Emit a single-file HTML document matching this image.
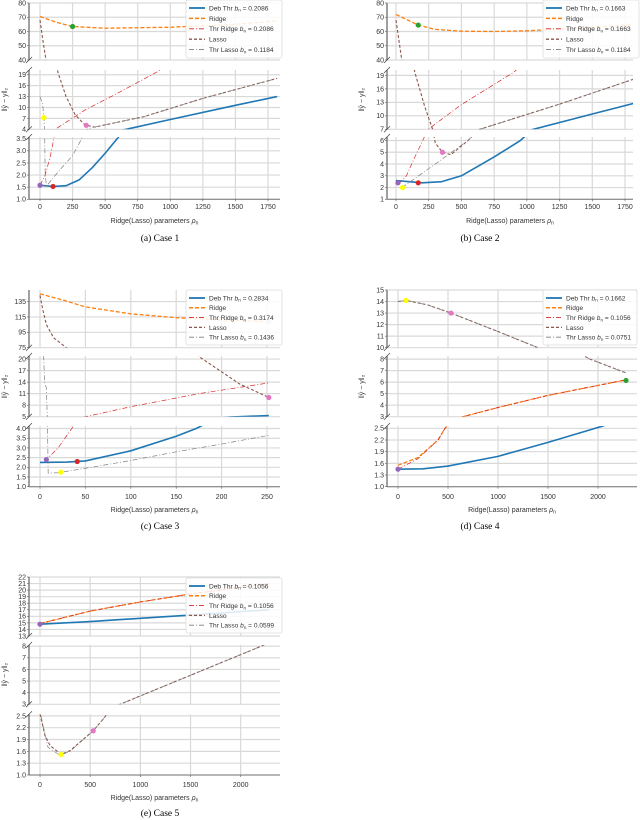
<!DOCTYPE html>
<html><head><meta charset="utf-8"><style>
html,body{margin:0;padding:0;background:#fff;}
svg{display:block;font-family:"Liberation Sans","DejaVu Sans",sans-serif;}
</style></head><body>
<svg id="fig" width="640" height="820" viewBox="0 0 640 820" xmlns="http://www.w3.org/2000/svg"></svg>
<script>
// ---- data (x = parameter rho_n, y = ||yhat - y||_2) ----
const c1_deb=[[0,1.58],[100,1.53],[200,1.56],[300,1.8],[400,2.3],[500,2.9],[600,3.55],[700,4.3],[1000,6.7],[1500,10.6],[1820,13]];
const c1_ridge=[[0,70.5],[125,66.5],[250,63.5],[500,62.3],[1000,63],[1500,65],[1820,67.5]];
const c1_thrridge=[[0,1.58],[40,2.0],[80,2.8],[110,3.6],[130,4.3],[345,9.3],[600,14],[900,19.8],[950,21]];
const c1_lasso=[[0,68],[20,55],[46,40],[90,28],[138,19.6],[200,13],[270,8],[345,5.2],[420,4.6],[800,7.5],[1250,12.5],[1820,18]];
const c1_thrlasso=[[0,13],[20,11],[30,7.2],[35,4],[40,2],[50,1.55],[150,2.2],[250,2.8],[320,3.5],[400,4.5],[800,7.5],[1250,12.5],[1820,18]];
const c1_marks=[[0,1.58,'#9467bd'],[100,1.53,'#d62728'],[250,63.5,'#2ca02c'],[355,5.1,'#e377c2'],[30,7.2,'#ffff00']];

const c2_deb=[[0,2.6],[100,2.5],[200,2.4],[350,2.5],[500,3.0],[750,4.6],[950,6.0],[1050,7],[1500,10.4],[1820,12.8]];
const c2_ridge=[[0,72],[170,64.5],[300,61.5],[500,60.2],[750,60],[1000,60.5],[1500,63],[1820,65]];
const c2_thrridge=[[20,2.3],[80,3],[140,4.5],[204,6],[260,7.3],[500,12.5],[900,19.7],[950,21]];
const c2_lasso=[[0,68],[44,40],[100,25],[145,19.6],[220,12],[280,7],[300,5.8],[355,5],[420,4.8],[550,6],[640,7],[1250,12.6],[1820,18.2]];
const c2_thrlasso=[[45,2],[300,4],[550,6],[640,7],[1250,12.6],[1820,18.2]];
const c2_marks=[[15,2.4,'#9467bd'],[50,2.0,'#ffff00'],[170,2.4,'#d62728'],[170,64.5,'#2ca02c'],[355,5,'#e377c2']];

const c3_deb=[[0,2.25],[30,2.27],[50,2.33],[100,2.85],[150,3.6],[172,4.0],[210,4.9],[252,5.3]];
const c3_ridge=[[0,145],[25,137],[50,128],[100,119],[150,114],[200,111],[252,109]];
const c3_thrridge=[[5,2.3],[20,3.0],[35,4.0],[50,5.0],[100,7.6],[175,11],[252,13.8]];
const c3_lasso=[[0,143],[3,125],[7,105],[15,88],[29,75],[100,40],[176,20.5],[220,13.5],[252,10]];
const c3_thrlasso=[[4,21],[5,14],[7,12.5],[8,5],[9,1.7],[20,1.72],[50,1.95],[100,2.35],[150,2.8],[200,3.2],[252,3.65]];
const c3_marks=[[7,2.4,'#9467bd'],[23,1.75,'#ffff00'],[41,2.3,'#d62728'],[252,10,'#e377c2'],[252,109,'#c7c7c7']];

const c4_deb=[[0,1.45],[250,1.46],[500,1.53],[1000,1.78],[1500,2.14],[1970,2.5],[2100,2.6]];
const c4_ridge=[[0,1.55],[200,1.75],[400,2.2],[470,2.5],[650,3],[1000,3.8],[1500,4.85],[2280,6.2]];
const c4_thrridge=[[0,1.45],[200,1.72],[400,2.2],[470,2.5],[650,3],[1000,3.8],[1500,4.85],[2280,6.2]];
const c4_lasso=[[0,14],[80,14.1],[300,13.7],[530,13],[1000,11.4],[1400,10],[1700,9],[1920,8],[2280,6.8]];
const c4_thrlasso=[[0,14],[80,14.1],[300,13.7],[530,13],[1000,11.4],[1400,10],[1700,9],[1920,8],[2280,6.8]];
const c4_marks=[[80,14.1,'#ffff00'],[530,13,'#e377c2'],[2280,6.15,'#2ca02c'],[0,1.45,'#9467bd']];

const c5_deb=[[0,14.8],[500,15.2],[1000,15.7],[1500,16.2],[2280,17]];
const c5_ridge=[[0,14.9],[500,16.8],[1000,18.2],[1500,19.4],[2280,21]];
const c5_thrridge=[[0,14.9],[500,16.8],[1000,18.2],[1500,19.4],[2280,21]];
const c5_lasso=[[0,2.55],[50,2.0],[100,1.75],[210,1.52],[300,1.62],[530,2.12],[640,2.45],[797,3],[2205,8],[2280,8.3]];
const c5_thrlasso=[[10,2.5],[80,1.7],[200,1.5],[300,1.6],[530,2.12],[640,2.45],[797,3],[2205,8],[2280,8.3]];
const c5_marks=[[0,14.8,'#9467bd'],[210,1.52,'#ffff00'],[530,2.12,'#e377c2']];

const c1_legend=['Deb Thr b_n = 0.2086','Ridge','Thr Ridge b_n = 0.2086','Lasso','Thr Lasso b_n = 0.1184'];
const c2_legend=['Deb Thr b_n = 0.1663','Ridge','Thr Ridge b_n = 0.1663','Lasso','Thr Lasso b_n = 0.1184'];
const c3_legend=['Deb Thr b_n = 0.2834','Ridge','Thr Ridge b_n = 0.3174','Lasso','Thr Lasso b_n = 0.1436'];
const c4_legend=['Deb Thr b_n = 0.1662','Ridge','Thr Ridge b_n = 0.1056','Lasso','Thr Lasso b_n = 0.0751'];
const c5_legend=['Deb Thr b_n = 0.1056','Ridge','Thr Ridge b_n = 0.1056','Lasso','Thr Lasso b_n = 0.0599'];

const xt12=['0','250','500','750','1000','1250','1500','1750'];
const xt3=['0','50','100','150','200','250'];
const xt45=['0','500','1000','1500','2000'];

// ---- layout ----
const styles=[
 {c:'#1f77b4',w:1.6,d:''},
 {c:'#ff7f0e',w:1.3,d:'4,2'},
 {c:'#d62728',w:0.7,d:'5,2,1,2'},
 {c:'#8c564b',w:1.1,d:'3,2'},
 {c:'#7f7f7f',w:0.7,d:'5,2,1,2'}
];
const panels=[
 {id:'case-1',cap:'(a) Case 1',L:29,R:280,x0:40,x1:268,v1:1750,xt:xt12,tickY:203,xlY:221,capY:241,capX:160,ylX:5,
  series:[c1_deb,c1_ridge,c1_thrridge,c1_lasso,c1_thrlasso],marks:c1_marks,leg:c1_legend,lg:[186,0,96,58],
  bands:[{t:3,b:60,lo:40,hi:80,ticks:['40','50','60','70','80']},{t:70,b:129.3,lo:4,hi:20.3,ticks:['4','7','10','13','16','19']},{t:137,b:199.3,lo:1,hi:3.57,ticks:['1.0','1.5','2.0','2.5','3.0','3.5']}]},
 {id:'case-2',cap:'(b) Case 2',L:387,R:633,x0:396,x1:625,v1:1750,xt:xt12,tickY:203,xlY:221,capY:241,capX:480,ylX:362,
  series:[c2_deb,c2_ridge,c2_thrridge,c2_lasso,c2_thrlasso],marks:c2_marks,leg:c2_legend,lg:[543,0,96,58],
  bands:[{t:3,b:60,lo:40,hi:80,ticks:['40','50','60','70','80']},{t:70,b:129.3,lo:7,hi:20.2,ticks:['7','10','13','16','19']},{t:137,b:199.3,lo:1,hi:6.3,ticks:['1','2','3','4','5','6']}]},
 {id:'case-3',cap:'(c) Case 3',L:29,R:280,x0:40,x1:267,v1:250,xt:xt3,tickY:493,xlY:510,capY:529,capX:160,ylX:5,
  series:[c3_deb,c3_ridge,c3_thrridge,c3_lasso,c3_thrlasso],marks:c3_marks,leg:c3_legend,lg:[186,290,96,55],
  bands:[{t:290,b:347.7,lo:75,hi:150,ticks:['75','95','115','135']},{t:356,b:416.7,lo:5,hi:20.8,ticks:['5','8','11','14','17','20']},{t:426,b:486.7,lo:1,hi:4.13,ticks:['1.0','1.5','2.0','2.5','3.0','3.5','4.0']}]},
 {id:'case-4',cap:'(d) Case 4',L:387,R:637,x0:398,x1:598,v1:2000,xt:xt45,tickY:493,xlY:510,capY:529,capX:480,ylX:362,
  series:[c4_deb,c4_ridge,c4_thrridge,c4_lasso,c4_thrlasso],marks:c4_marks,leg:c4_legend,lg:[543,290,94,55],
  bands:[{t:290,b:347.7,lo:10,hi:15,ticks:['10','11','12','13','14','15']},{t:356,b:416.7,lo:3,hi:8.27,ticks:['3','4','5','6','7','8']},{t:426,b:486.7,lo:1,hi:2.56,ticks:['1.0','1.3','1.6','1.9','2.2','2.5']}]},
 {id:'case-5',cap:'(e) Case 5',L:29,R:280,x0:40,x1:240.7,v1:2000,xt:xt45,tickY:781,xlY:798,capY:816,capX:160,ylX:5,
  series:[c5_deb,c5_ridge,c5_thrridge,c5_lasso,c5_thrlasso],marks:c5_marks,leg:c5_legend,lg:[186,578,96,55],
  bands:[{t:577,b:636,lo:13,hi:22,ticks:['13','14','15','16','17','18','19','20','21','22']},{t:645,b:704.3,lo:3,hi:8.1,ticks:['3','4','5','6','7','8']},{t:714.3,b:775,lo:1,hi:2.54,ticks:['1.0','1.3','1.6','1.9','2.2','2.5']}]}
];

const NS='http://www.w3.org/2000/svg';
const svg=document.getElementById('fig');
function mk(tag,attrs,parent){const e=document.createElementNS(NS,tag);for(const k in attrs)e.setAttribute(k,attrs[k]);(parent||svg).appendChild(e);return e;}
let clipN=0;

panels.forEach(p=>{
  const g=mk('g',{});
  
  
  const xs=v=>p.x0+(v/p.v1)*(p.x1-p.x0);
  // x ticks values parsed from labels
  p.bands.forEach((bd,bi)=>{
    const ys=v=>bd.b-(v-bd.lo)/(bd.hi-bd.lo)*(bd.b-bd.t);
    const bg=mk('g',{},g);
    
    
    // grid
    p.xt.forEach(t=>{const x=xs(parseFloat(t));mk('line',{x1:x,x2:x,y1:bd.t,y2:bd.b,stroke:'#d9d9d9','stroke-width':1.2},bg);});
    bd.ticks.forEach(t=>{const y=ys(parseFloat(t));
      mk('line',{x1:p.L,x2:p.R,y1:y,y2:y,stroke:'#d9d9d9','stroke-width':1.2},bg);
      mk('line',{x1:p.L-2,x2:p.L,y1:y,y2:y,stroke:'#555','stroke-width':0.6},bg);
      const tx=mk('text',{x:p.L-3,y:y+2.4,'font-size':7,'text-anchor':'end',fill:'#333'},bg);tx.textContent=t;
      
      
    });
    // clip
    const id='cl'+(clipN++);
    const cp=mk('clipPath',{id:id},bg);mk('rect',{x:p.L,y:bd.t,width:p.R-p.L,height:bd.b-bd.t},cp);
    const sg=mk('g',{'clip-path':'url(#'+id+')'},bg);
    p.series.forEach((s,si)=>{
      const st=styles[si];
      const d=s.map((pt,i)=>(i?'L':'M')+xs(pt[0]).toFixed(2)+','+ys(pt[1]).toFixed(2)).join(' ');
      const path=mk('path',{d:d,fill:'none',stroke:st.c,'stroke-width':st.w,'stroke-dasharray':st.d,'stroke-linejoin':'round'},sg);
      
      
    });
    p.marks.forEach(m=>{
      const c=mk('circle',{cx:xs(m[0]),cy:ys(m[1]),r:2.6,fill:m[2]},sg);
      
      
    });
    // left spine
    mk('line',{x1:p.L,x2:p.L,y1:bd.t,y2:bd.b,stroke:'#777','stroke-width':1.4},bg);
    // break marks
    if(bi>0) mk('line',{x1:p.L-3,y1:bd.t+3,x2:p.L+3,y2:bd.t-3,stroke:'#444','stroke-width':0.7},bg);
    if(bi<2) mk('line',{x1:p.L-3,y1:bd.b+3,x2:p.L+3,y2:bd.b-3,stroke:'#444','stroke-width':0.7},bg);
    if(bi===2){
      mk('line',{x1:p.L,x2:p.R,y1:bd.b,y2:bd.b,stroke:'#777','stroke-width':1},bg);
      p.xt.forEach(t=>{const x=xs(parseFloat(t));
        mk('line',{x1:x,x2:x,y1:bd.b,y2:bd.b+2,stroke:'#555','stroke-width':0.6},bg);
        const tx=mk('text',{x:x,y:p.tickY+6,'font-size':7,'text-anchor':'middle',fill:'#333'},bg);tx.textContent=t;
        
        
      });
    }
  });
  // x label
  const xl=mk('text',{x:(p.L+p.R)/2,y:p.xlY+2,'font-size':7,'text-anchor':'middle',fill:'#333'},g);
  xl.innerHTML='Ridge(Lasso) parameters <tspan font-style="italic">ρ</tspan><tspan font-size="5" dy="1.5">n</tspan>';
  
  
  // y label
  const mb=p.bands[1];const cy=(mb.t+mb.b)/2;
  const yl=mk('text',{x:p.ylX+2,y:cy,'font-size':7,'text-anchor':'middle',fill:'#333',transform:'rotate(-90 '+(p.ylX+2)+' '+cy+')'},g);
  yl.textContent='‖ŷ − y‖₂';
  
  
  // legend
  const [lx,ly,lw,lh]=p.lg;
  const lgG=mk('g',{},g);
  
  
  mk('rect',{x:lx,y:ly,width:lw,height:lh,rx:2,fill:'#fff','fill-opacity':0.85,stroke:'#ddd','stroke-width':0.8},lgG);
  p.leg.forEach((t,i)=>{
    const st=styles[i];const yy=ly+6+i*(lh-6)/5+2;
    mk('line',{x1:lx+3,x2:lx+19,y1:yy,y2:yy,stroke:st.c,'stroke-width':st.w+0.2,'stroke-dasharray':st.d},lgG);
    const tx=mk('text',{x:lx+23,y:yy+2.4,'font-size':6.6,fill:'#333'},lgG);
    const parts=t.split('b_n');
    if(parts.length>1){tx.innerHTML=parts[0]+'<tspan font-style="italic">b</tspan><tspan font-size="4.5" dy="1.3">n</tspan><tspan dy="-1.3">'+parts[1]+'</tspan>';}
    else tx.textContent=t;
    
    
  });
  // caption
  const cap=mk('text',{x:p.capX,y:p.capY,'font-size':9.5,'text-anchor':'middle',fill:'#000','font-family':'Liberation Serif, serif'},g);
  cap.textContent=p.cap;
  
  
});
</script>
</body></html>
